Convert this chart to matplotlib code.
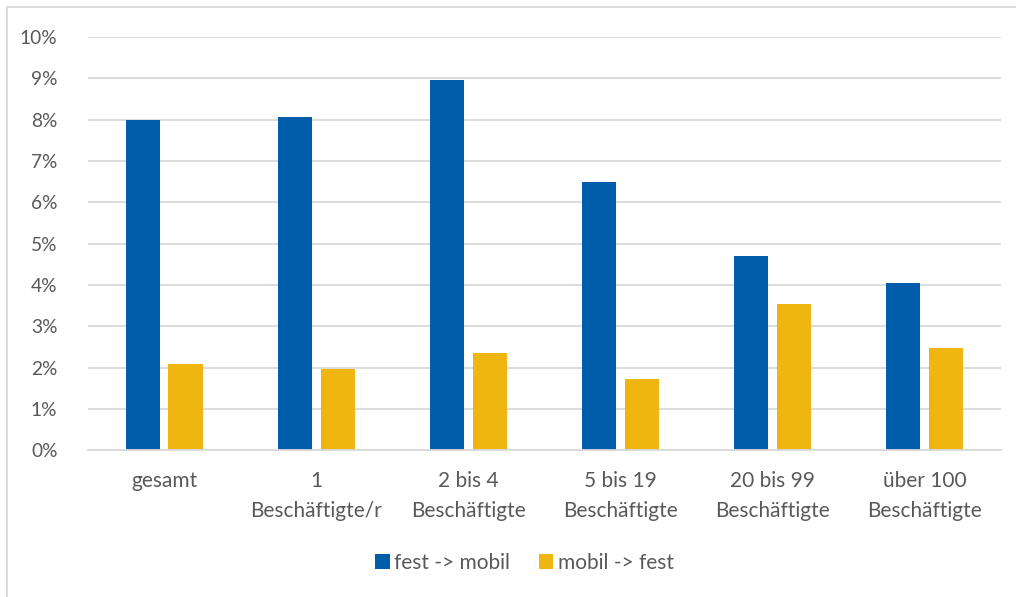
import matplotlib
matplotlib.use("Agg")
import matplotlib.pyplot as plt
import numpy as np
from matplotlib.patches import Rectangle

categories = ["gesamt", "1\nBeschäftigte/r", "2 bis 4\nBeschäftigte", "5 bis 19\nBeschäftigte",
              "20 bis 99\nBeschäftigte", "über 100\nBeschäftigte"]
fest_mobil = [8.0, 8.06, 8.96, 6.49, 4.70, 4.04]
mobil_fest = [2.08, 1.96, 2.35, 1.72, 3.54, 2.47]
series_names = ["fest -> mobil", "mobil -> fest"]
yticks = list(range(0, 11))

blue = "#005DAC"
yellow = "#EFB511"
text_c = "#595959"
grid_c = "#D9D9D9"

plt.rcParams['font.family'] = ['Lato', 'DejaVu Sans']

fig = plt.figure(figsize=(10.16, 5.97), dpi=100)
ax = fig.add_axes([0.0866, 0.246, 0.8984, 0.692])

x = np.arange(len(categories))
w = 0.224
off = 0.141
ax.bar(x - off, fest_mobil, w, color=blue, label=series_names[0], zorder=3)
ax.bar(x + off, mobil_fest, w, color=yellow, label=series_names[1], zorder=3)

ax.set_xlim(-0.5, len(categories) - 0.5)
ax.set_ylim(0, 10)
ax.set_yticks(yticks)
ax.set_yticklabels([f"{t}%" for t in yticks])
ax.set_xticks(x)
ax.set_xticklabels(categories, linespacing=1.62)
ax.tick_params(axis='y', length=0, labelsize=13.8, colors=text_c, pad=22)
ax.tick_params(axis='x', length=0, labelsize=15, colors=text_c, pad=15)
ax.grid(axis='y', color=grid_c, linewidth=1.3, zorder=0)
for s in ['top', 'right', 'left']:
    ax.spines[s].set_visible(False)
ax.spines['bottom'].set_color(grid_c)
ax.spines['bottom'].set_linewidth(1.3)
ax.spines['bottom'].set_zorder(4)

leg = fig.legend(loc='center', bbox_to_anchor=(0.516, 0.057), ncol=2, frameon=False,
                 fontsize=15, handlelength=0.7, handleheight=0.7, handletextpad=0.2,
                 columnspacing=1.4)
for t in leg.get_texts():
    t.set_color(text_c)

fig.patches.append(Rectangle((0.007, -0.01), 1.0, 0.998, transform=fig.transFigure,
                             fill=False, edgecolor=grid_c, linewidth=1.3))

fig.savefig("out.png", dpi=100)
